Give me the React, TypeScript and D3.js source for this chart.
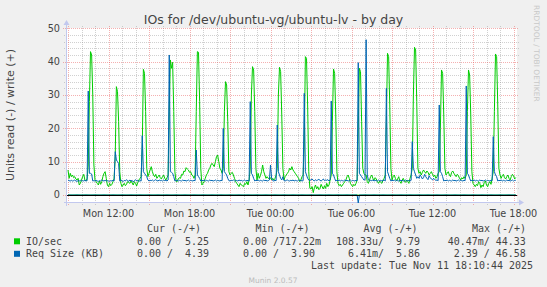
import React from "react";
import * as d3 from "d3";

// ---------- data ----------
const startTime = new Date(2025, 10, 10, 9, 0, 0);
const endTime = new Date(2025, 10, 11, 18, 12, 0);
const stepMinutes = 5;

// write IO/sec (+), one value per 5 minutes from Mon 09:00
const ioWrite = [
  7.5, 5, 6.5, 5.5, 6, 5.2, 5.5, 4.8, 4.5, 5, 3, 3.5, 4.5, 5.5, 6.2, 4.5, 4.2, 5,
  9, 28, 43, 42, 30, 9, 4.5,
  4, 3.5, 3, 4.2, 3.2, 4, 5.5, 6.5, 7, 5, 3, 2.5, 3.5, 2.8, 3.2, 4, 5,
  12, 32.5, 31, 22,
  7, 3.5, 2.5, 3, 3.5, 2.8, 3.2, 4, 3.8, 3.5, 4.2, 3.6, 3, 4, 3.5, 2.7, 3.8, 4.5, 5, 5.5,
  14, 37.7, 36.5, 25,
  8, 5.5, 6.5, 7.5, 8.5, 7, 6, 5.5, 6.2, 5, 5.5, 6, 5.2, 4.8, 5.5, 6, 5, 4.5, 5.2, 6,
  25, 40.5, 38, 39.8, 25,
  7, 4.2, 4, 4.8, 5.2, 5, 6.2, 6, 7.2, 7, 8.2, 7.8, 7.5, 6.8, 7, 6, 5.8, 5, 6,
  25, 43, 42.8, 28, 8,
  3, 3.5, 4, 5, 6, 6.5, 7.5, 8, 9, 9.5, 9, 8.5, 10, 11.5, 12, 10, 8, 7.5, 6.5,
  8, 25, 34, 33, 22,
  7, 6, 6.5, 6.8, 6, 5, 4, 3.5, 3, 2.5, 3.5, 3, 2.8, 2.5, 3.5, 3.2, 4, 3, 4.5,
  8, 30, 38.5, 37.5, 25,
  8, 4.5, 6.5, 5, 5.8, 7, 9, 7, 6, 5, 5.5, 5, 4.8, 5.2, 4.5, 5, 4.5, 5, 6,
  8, 30, 38.3, 37, 24,
  8, 4.5, 5.5, 6, 6.5, 7, 8, 7.5, 8.5, 7.5, 7, 6.5, 6, 5.5, 5, 4, 4.5, 5.5, 6,
  15, 41.5, 41, 27,
  7, 2, 1.8, 2.5, 0.72, 2.2, 3, 1.8, 2.5, 1.6, 2, 3.2, 2.4, 1.8, 2.8, 2, 3.5, 2.5, 3, 4.5,
  6, 22, 37.8, 36.5, 24,
  7, 3.5, 2.8, 3.2, 2.5, 3, 3.5, 4, 4.5, 5.5, 6, 5, 3.5, 3, 2.5, 3.2, 2.8, 3.5, 4.5,
  20, 38, 37, 22, 8, 6.5, 6, 6, 4, 3.5,
  4.5, 5.5, 6, 5, 4.5, 5.2, 4.8, 4, 3.5, 4.2, 3.8, 3.5, 4.5, 5,
  6, 22, 42.5, 41.5, 27,
  8, 4.5, 5.5, 6, 5, 4.2, 4.8, 5.5, 4, 3.5, 4.5, 5, 4.2, 3.8, 4.5, 4, 3.5, 5, 6,
  8, 30, 44.3, 43.5, 28,
  8, 6.5, 7, 6, 6.8, 7.5, 7, 6.5, 7.2, 6.8, 6, 6.5, 7, 6.2, 5.5, 6, 5, 5.5, 6.5,
  7, 20, 37.5, 36.5, 24,
  8, 6, 6.5, 7, 6, 5.5, 6.8, 7.2, 6.5, 6, 5.5, 6.2, 5.8, 5, 4.5, 5.2, 4.8, 5.5, 5,
  6, 25, 37.5, 36, 24,
  7, 3.5, 3, 2.5, 3.2, 2.8, 4, 3.5, 2.2, 3, 2.5, 3.8, 4.2, 3, 2.5, 3.5, 4, 3.2, 5,
  7, 25, 42.3, 41.5, 27,
  8, 6, 5, 5.8, 6.2, 5.2, 4.8, 5.5, 6, 5, 4.5, 5.5, 6.2, 5.8, 4.8, 5.25,
];

// write request size KB (+)
const reqWrite = [
  4.5, 4.3, 4.2, 4.4, 4.2, 4.3, 4.5, 4.2, 4.1, 4.3, 4.2, 4.4, 4.2, 4.3, 4.2, 4.4, 4.2, 4.3,
  31.2, 6.5, 6.5, 6.3,
  4.2, 4.3, 4.2, 4.4, 4.2, 4.1, 4.3, 4.2, 4.5, 4.3, 4.2, 4.4, 4.2, 4.3, 4.2, 4.1, 4.3, 4.2, 4.4, 4.2,
  13, 10.5, 10, 9.5,
  4.2, 4.5, 4.3, 4.0, 4.4, 4.2, 4.6, 4.3, 4.1, 4.5, 4.2, 4.4, 3.9, 4.3, 4.6, 4.2, 4.4, 4.1, 4.3, 4.2,
  17.8, 7, 6.5, 6, 5.5,
  4.5, 4.2, 4.4, 4.3, 4.5, 4.2, 4.4, 4.6, 4.3, 4.2, 4.5, 4.3, 4.4, 4.2, 4.5, 4.3, 4.4, 4.2, 4.5,
  42, 7, 6.8, 6.5, 5.5,
  4.2, 4.3, 4.5, 4.2, 4.4, 4.3, 4.2, 4.5, 4.3, 4.4, 4.2, 4.3, 4.5, 4.2, 4.4, 4.3, 4.2, 4.4, 4.3,
  13.5, 6, 5.5, 5,
  4.2, 4.4, 4.3, 4.5, 4.2, 4.4, 4.3, 4.2, 4.5, 4.3, 4.4, 4.2, 4.3, 4.5, 4.2, 4.4, 4.3, 4.2, 4.4, 4.3,
  20, 7, 6.5, 6, 5,
  4.3, 4.2, 4.4, 4.3, 4.5, 4.2, 4.4, 4.3, 4.2, 4.5, 4.3, 4.4, 4.2, 4.3, 4.5, 4.2, 4.4, 4.3, 4.2,
  28, 6.5, 6, 5,
  4.2, 4.4, 4.3, 4.5, 4.2, 4.4, 4.3, 4.2, 4.5, 4.3, 4.4, 4.2, 4.3, 4.5, 9, 5, 4.3, 4.2, 4.4, 4.3,
  21, 7, 6, 5,
  4.5, 5.5, 4.3, 4.2, 4.4, 4.5, 4.3, 4.2, 4.4, 4.3, 4.5, 4.2, 4.4, 4.3, 4.2, 4.5, 4.3, 4.4, 4.2, 4.3,
  30.5, 7, 6, 5,
  4.5, 4.3, 4.6, 4.8, 4.4, 4.2, 4.6, 4.3, 4.5, 4.7, 4.4, 4.2, 4.5, 4.8, 4.3, 4.5, 4.4, 4.6, 4.2, 4.5,
  28.2, 6.5, 6, 5,
  4.2, 4.4, 4.3, 4.5, 4.2, 4.4, 4.3, 4.2, 4.5, 4.3, 4.4, 4.2, 4.3, 4.5, 4.2, 4.4, 4.3, 4.2, 4.4, 4.3,
  39.7, 6.5, 6, 5.5, 5, 4.5, 4.5, 46.58, 6, 4.5,
  4.2, 4.4, 4.3, 4.5, 4.2, 4.4, 4.3, 4.2, 4.5, 4.3, 4.4, 4.2, 4.3, 4.5, 4.2,
  32, 7, 6, 5,
  4.2, 4.4, 4.3, 4.5, 4.2, 4.4, 4.3, 4.2, 4.5, 4.3, 4.4, 4.2, 4.3, 4.5, 4.2, 4.4, 4.3, 4.2, 4.4,
  16, 8, 7, 6, 5,
  5.5, 5, 6, 5.5, 4.8, 5.2, 6.2, 5.5, 5, 4.6, 5.8, 5.2, 4.8, 4.5, 5, 4.6, 4.4, 4.5, 4.3,
  27, 7, 6.5, 5.5,
  4.2, 4.4, 4.3, 4.5, 4.2, 4.4, 4.3, 4.2, 4.5, 4.3, 4.4, 4.2, 4.3, 4.5, 4.2, 4.4, 4.3, 4.2, 4.4, 4.3,
  32.7, 6.5, 6, 5,
  4.2, 4.4, 4.3, 4.5, 4.2, 4.4, 4.3, 4.2, 4.5, 4.3, 4.4, 4.2, 4.3, 4.5, 4.2, 4.4, 4.3, 4.2, 4.4, 4.3,
  17.5, 7, 6, 5.5,
  4.2, 4.4, 4.3, 4.5, 4.2, 4.4, 4.3, 4.2, 4.5, 4.3, 4.4, 4.2, 4.3, 4.5, 4.2, 4.4, 4.39,
];

// read values (-): zero except these samples
const ioReadSamples = [{ index: 258, value: -0.04 }];
const reqReadSamples = [{ index: 258, value: -2.39 }];

const yMajorTicks = [0, 10, 20, 30, 40, 50];
const legendHeaders = ["Cur (-/+)", "Min (-/+)", "Avg (-/+)", "Max (-/+)"];
const ioLegend = ["  0.00 /  5.25 ", "  0.00 /717.22m", "108.33u/  9.79 ", " 40.47m/ 44.33 "];
const reqLegend = ["  0.00 /  4.39 ", "  0.00 /  3.90 ", "  6.41m/  5.86 ", "  2.39 / 46.58 "];
const seriesNames = ["IO/sec", "Req Size (KB)"];
const seriesColors = ["#00CC00", "#0066B3"];
const titleText = "IOs for /dev/ubuntu-vg/ubuntu-lv - by day";
const yAxisTitle = "Units read (-) / write (+)";
const lastUpdate = "Last update: Tue Nov 11 18:10:44 2025";
const versionText = "Munin 2.0.57";
const watermark = "RRDTOOL / TOBI OETIKER";

// ---------- layout ----------
const W = 547;
const H = 287;
const PL = 67;
const PR = 517;
const PT = 28;
const PB = 202;

const sans = "'DejaVu Sans', Verdana, sans-serif";
const mono = "'DejaVu Sans Mono', monospace";

const headerX = [147, 255.4, 363.4, 472];
const colX = [125, 230.9, 336, 441.7];

function buildRead(samples: { index: number; value: number }[]) {
  return ioWrite.map((_, i) => {
    const s = samples.find((d) => d.index === i);
    return s ? s.value : 0;
  });
}

export default function App() {
  const x = d3.scaleTime().domain([startTime, endTime]).range([68, 516.2]);
  const y = d3.scaleLinear().domain([-2.1, 50]).range([PB, 28.3]);
  const timeAt = (i: number) => new Date(startTime.getTime() + i * stepMinutes * 60000);
  const line = d3
    .line<number>()
    .x((_, i) => x(timeAt(i)))
    .y((d) => y(d));

  const ioRead = buildRead(ioReadSamples);
  const reqRead = buildRead(reqReadSamples);

  const snap = (v: number) => Math.round(v) + 0.5;

  const minorY = d3.range(-2, 51, 2).filter((v) => v % 10 !== 0);
  const hourTicks = x.ticks(d3.timeHour.every(1)!);
  const minorX = hourTicks.filter((d) => d.getHours() % 3 !== 0);
  const majorX = hourTicks.filter((d) => d.getHours() % 3 === 0);
  const labelX = x.ticks(d3.timeHour.every(6)!);
  const fmt = d3.timeFormat("%a %H:%M");

  const minorColor = "rgba(150,150,150,0.45)";
  const majorColor = "rgba(230,80,80,0.45)";
  const axisColor = "#C2C8EE";
  const textColor = "#444";

  return (
    <svg
      width={W}
      height={H}
      style={{ position: "absolute", left: 0, top: 0, background: "#F0F0F0" }}
    >
      <rect x={0} y={0} width={W} height={H} fill="#F0F0F0" />
      <rect x={PL} y={PT} width={PR - PL} height={PB - PT} fill="#FFFFFF" />

      {/* minor grid */}
      <g stroke={minorColor} strokeWidth={1} strokeDasharray="1 1" shapeRendering="crispEdges">
        {minorY.map((v) => (
          <line key={"my" + v} x1={64} x2={519} y1={snap(y(v))} y2={snap(y(v))} />
        ))}
        {minorX.map((d) => (
          <line key={"mx" + d.getTime()} x1={snap(x(d))} x2={snap(x(d))} y1={PT - 2} y2={PB + 3} />
        ))}
      </g>
      {/* major grid */}
      <g stroke={majorColor} strokeWidth={1} strokeDasharray="1 1" shapeRendering="crispEdges">
        {yMajorTicks.map((v) => (
          <line key={"My" + v} x1={63} x2={519} y1={snap(y(v))} y2={snap(y(v))} />
        ))}
        {majorX.map((d) => (
          <line key={"Mx" + d.getTime()} x1={snap(x(d))} x2={snap(x(d))} y1={PT - 2} y2={PB + 4} />
        ))}
      </g>

      {/* axes */}
      <g shapeRendering="crispEdges" stroke={axisColor} strokeWidth={1}>
        <line x1={64} x2={520} y1={PB + 0.5} y2={PB + 0.5} />
        <line x1={PL - 0.5} x2={PL - 0.5} y1={PB + 4} y2={24} />
      </g>
      <polygon points={`519,${PB - 2.5} 524,${PB + 0.5} 519,${PB + 3.5}`} fill={axisColor} />
      <polygon points={`${PL - 3.5},25 ${PL - 0.5},20 ${PL + 2.5},25`} fill={axisColor} />

      {/* series */}
      <path d={line(ioWrite) || ""} fill="none" stroke={seriesColors[0]} strokeWidth={1} />
      <path d={line(ioRead) || ""} fill="none" stroke={seriesColors[0]} strokeWidth={1} />
      <path d={line(reqWrite) || ""} fill="none" stroke={seriesColors[1]} strokeWidth={1} />
      <path d={line(reqRead) || ""} fill="none" stroke={seriesColors[1]} strokeWidth={1} />
      <line x1={PL} x2={PR} y1={snap(y(0))} y2={snap(y(0))} stroke="#000" strokeWidth={1} shapeRendering="crispEdges" />

      {/* y tick labels */}
      {yMajorTicks.map((v) => (
        <text key={"yl" + v} x={60} y={y(v) + 3.5} textAnchor="end" fontFamily={sans} fontSize={9.7} fill={textColor}>
          {v}
        </text>
      ))}
      {/* x tick labels */}
      {labelX.map((d) => (
        <text key={"xl" + d.getTime()} x={x(d)} y={217} textAnchor="middle" fontFamily={sans} fontSize={9.7} fill={textColor}>
          {fmt(d)}
        </text>
      ))}

      {/* title */}
      <text x={273.5} y={23.8} textAnchor="middle" fontFamily={sans} fontSize={12.5} fill={textColor}>
        {titleText}
      </text>
      {/* y axis title */}
      <text
        transform={`translate(13.8,115) rotate(-90)`}
        textAnchor="middle"
        fontFamily={sans}
        fontSize={11}
        fill={textColor}
      >
        {yAxisTitle}
      </text>
      {/* watermark */}
      <text transform={`translate(534,5) rotate(90)`} fontFamily={sans} fontSize={7.5} fill="#C8C8C8">
        {watermark}
      </text>

      {/* legend */}
      <g fontFamily={mono} fontSize={9.97} fill={textColor} style={{ whiteSpace: "pre" }}>
        {legendHeaders.map((h, i) => (
          <text key={"h" + i} x={headerX[i]} y={232} xmlSpace="preserve">
            {h}
          </text>
        ))}
        {[ioLegend, reqLegend].map((row, r) => (
          <g key={"row" + r}>
            <rect x={14} y={238.3 + r * 12.5} width={6} height={6} fill={seriesColors[r]} />
            <text x={26} y={244.5 + r * 12.5} xmlSpace="preserve">
              {seriesNames[r]}
            </text>
            {row.map((s, c) => (
              <text key={"c" + c} x={colX[c]} y={244.5 + r * 12.5} xmlSpace="preserve">
                {s}
              </text>
            ))}
          </g>
        ))}
        <text x={311} y={269} xmlSpace="preserve">
          {lastUpdate}
        </text>
      </g>
      <text x={273} y={282.5} textAnchor="middle" fontFamily={sans} fontSize={7.5} fill="#BBBBBB">
        {versionText}
      </text>
    </svg>
  );
}
